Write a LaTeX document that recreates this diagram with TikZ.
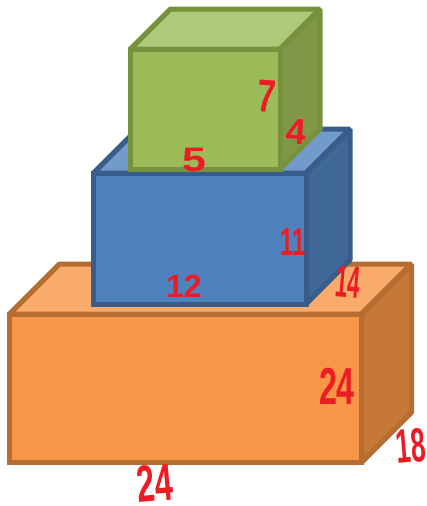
\documentclass[tikz,border=0pt]{standalone}
\usepackage{fontspec}
\setsansfont{Liberation Sans}
\definecolor{greenfront}{RGB}{155,187,89}
\definecolor{greentop}{RGB}{175,201,122}
\definecolor{greenside}{RGB}{127,151,71}
\definecolor{greenline}{RGB}{118,146,60}
\definecolor{bluefront}{RGB}{79,129,189}
\definecolor{bluetop}{RGB}{114,154,202}
\definecolor{blueside}{RGB}{63,103,151}
\definecolor{blueline}{RGB}{56,93,138}
\definecolor{orangefront}{RGB}{247,150,70}
\definecolor{orangetop}{RGB}{249,171,107}
\definecolor{orangeside}{RGB}{198,120,56}
\definecolor{orangeline}{RGB}{182,109,49}
\definecolor{numred}{RGB}{237,28,36}
\tikzset{boxedge/.style={line width=5pt,line join=bevel}}
% colour, front left, front top, width, height, depth
\newcommand{\drawbox}[6]{
    \filldraw[boxedge,draw=#1line,fill=#1top] (#2,#3)--++(#6,-#6)--++(#4,0)--++(-#6,#6)--cycle;
    \filldraw[boxedge,draw=#1line,fill=#1side] (#2+#4,#3)--++(#6,-#6)--++(0,#5)--++(-#6,#6)--cycle;
    \filldraw[boxedge,line join=miter,draw=#1line,fill=#1front] (#2,#3)--++(#4,0)--++(0,#5)--++(-#4,0)--cycle;
}
% name, text, centre, font size, rotation, width factor
\newcommand{\numberlabel}[6]{\node[text=numred,inner sep=0pt,rotate=#5,font=\sffamily\bfseries\fontsize{#4}{#4}\selectfont] (#1) at (#3) {\scalebox{#6}[1]{#2}};}
\begin{document}
\begin{tikzpicture}[x=1pt,y=-1pt]
\useasboundingbox (0,0) rectangle (427,506);
\drawbox{orange}{9.5}{314}{352}{148.5}{50}
\drawbox{blue}{93.5}{173}{212.5}{131}{44}
\drawbox{green}{130.5}{49}{149.5}{120}{40}
\numberlabel{seven}{7}{267,96}{46}{-4}{.72}
\numberlabel{fourtop}{4}{296,132}{36}{-4}{1}
\numberlabel{five}{5}{194,160}{34}{0}{1.26}
\numberlabel{eleven}{11}{293,242}{39}{0}{.6}
\numberlabel{twelve}{12}{184,286}{32}{0}{1}
\numberlabel{fourteen}{14}{348,282}{45}{-5}{.5}
\numberlabel{sidetwenty}{24}{337,386}{52}{0}{.62}
\numberlabel{basetwenty}{24}{155,483}{52}{5}{.62}
\numberlabel{eighteen}{18}{411,446}{48}{5}{.55}
\end{tikzpicture}
\end{document}
